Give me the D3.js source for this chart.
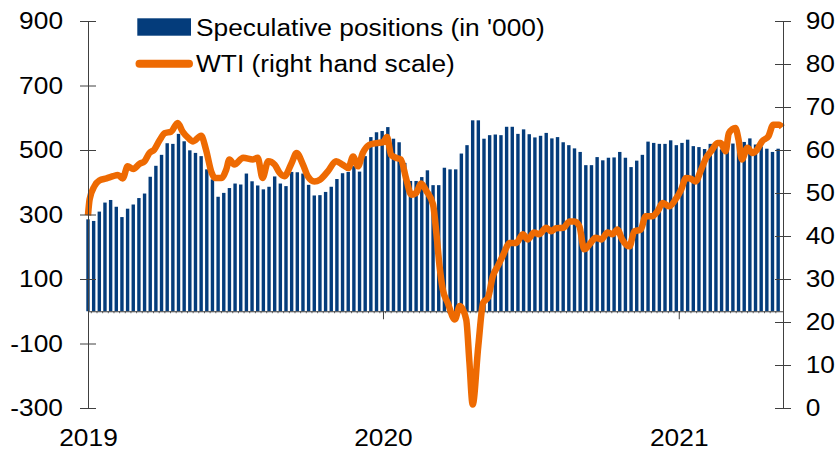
<!DOCTYPE html>
<html><head><meta charset="utf-8">
<script src="https://cdn.jsdelivr.net/npm/d3@7/dist/d3.min.js"></script>
<style>
body{margin:0;background:#fff}
svg{display:block}
text{font-family:"Liberation Sans",Arial,Helvetica,sans-serif;fill:#000}
</style>
</head><body>
<svg id="chart" width="836" height="450"></svg>
<script>
// ---- data ----
const firstWeek = "2019-01-01"; // weekly observations (Tuesdays)
const positions = [
  285,280,309,337,345,324,292,318,331,351,365,417,451,485,521,519,550,527,499,491,
  481,440,409,355,367,382,396,393,427,403,390,378,386,418,396,388,432,431,427,392,
  359,360,370,386,410,428,432,450,433,481,540,555,559,571,535,524,460,404,404,416,
  437,391,391,445,440,440,489,515,592,592,535,546,548,546,572,572,550,564,549,539,
  544,553,536,540,524,515,505,494,453,453,478,468,476,477,494,476,447,467,485,526,
  522,519,519,530,515,522,532,512,509,503,519,512,502,510,520,515,525,536,517,511,
  504,494,504
];
const wtiDates = [
  "2019-01-01","2019-01-03","2019-01-09","2019-01-15","2019-01-24","2019-02-01","2019-02-07","2019-02-13",
  "2019-02-19","2019-02-26","2019-03-06","2019-03-12","2019-03-18","2019-03-24","2019-03-31","2019-04-06",
  "2019-04-14","2019-04-22","2019-04-28","2019-05-05","2019-05-11","2019-05-21","2019-05-27","2019-06-03",
  "2019-06-07","2019-06-15","2019-06-21","2019-06-25","2019-07-01","2019-07-12","2019-07-24","2019-07-30",
  "2019-08-05","2019-08-12","2019-08-20","2019-08-26","2019-09-01","2019-09-10","2019-09-16","2019-09-24",
  "2019-09-30","2019-10-08","2019-10-15","2019-10-25","2019-11-04","2019-11-12","2019-11-19","2019-11-25",
  "2019-12-01","2019-12-07","2019-12-15","2019-12-24","2020-01-01","2020-01-06","2020-01-11","2020-01-17",
  "2020-01-23","2020-01-30","2020-02-05","2020-02-11","2020-02-17","2020-02-24","2020-03-03","2020-03-07",
  "2020-03-11","2020-03-15","2020-03-21","2020-03-30","2020-04-05","2020-04-13","2020-04-17","2020-04-21",
  "2020-04-28","2020-05-04","2020-05-10","2020-05-16","2020-05-22","2020-05-28","2020-06-06","2020-06-14",
  "2020-06-22","2020-06-28","2020-07-06","2020-07-12","2020-07-21","2020-07-27","2020-08-02","2020-08-11",
  "2020-08-19","2020-08-25","2020-08-31","2020-09-06","2020-09-14","2020-09-20","2020-09-27","2020-10-05",
  "2020-10-11","2020-10-17","2020-10-23","2020-11-01","2020-11-07","2020-11-15","2020-11-21","2020-11-29",
  "2020-12-06","2020-12-12","2020-12-20","2020-12-28","2021-01-04","2021-01-10","2021-01-16","2021-01-22",
  "2021-01-28","2021-02-04","2021-02-10","2021-02-18","2021-02-22","2021-02-28","2021-03-04","2021-03-12",
  "2021-03-16","2021-03-20","2021-03-27","2021-04-02","2021-04-08","2021-04-14","2021-04-22","2021-04-28",
  "2021-05-05","2021-05-09"
];
const wtiValues = [
  44.8,48.5,51.6,52.9,53.4,53.9,54.2,53.4,
  56.2,55.6,56.8,57.4,59.3,60.1,62.4,63.9,
  64.3,66.3,64.3,62.8,62.0,63.3,60.1,54.7,
  53.5,53.5,55.4,57.8,56.6,58.2,57.8,58.2,
  53.5,57.4,56.6,54.7,53.9,57.0,59.3,56.6,
  53.9,52.7,53.1,55.1,57.4,56.6,55.8,58.5,
  56.2,59.3,61.2,61.6,61.8,63.0,58.9,58.2,
  57.8,53.1,49.6,50.0,52.2,50.4,47.3,40.8,
  33.0,27.6,24.5,20.6,23.7,20.6,10.6,0.8,
  14.5,24.5,25.7,30.7,33.0,35.3,38.4,38.4,
  40.4,39.2,40.8,40.4,41.9,41.1,41.8,41.9,
  43.4,43.4,42.3,36.9,38.4,39.6,39.2,40.8,
  40.4,41.5,39.2,37.6,41.1,41.5,44.6,44.6,
  45.8,47.7,46.9,48.5,50.8,53.5,53.3,52.7,
  55.1,58.2,59.7,61.6,61.6,59.7,63.9,65.1,
  62.4,57.8,60.5,59.3,60.1,62.0,63.2,65.9,
  65.9,65.3
];
const leftTicks = [-300,-100,100,300,500,700,900];
const rightTicks = [0,10,20,30,40,50,60,70,80,90];
const yearTicks = ["2019-01-01","2020-01-01","2021-01-01"];
const yearLabels = ["2019","2020","2021"];
const legendLabels = ["Speculative positions (in '000)","WTI (right hand scale)"];
const xDomain = ["2019-01-01","2021-05-10"];

// ---- styling ----
const BLUE = "#043C7B", ORANGE = "#EE6A02", AXIS = "#404040";
const FS = 23.5, SX = 1.12;

const parse = d3.utcParse("%Y-%m-%d");
const svg = d3.select("#chart");

const x = d3.scaleUtc().domain(xDomain.map(parse)).range([88, 783]);
const yL = d3.scaleLinear().domain([-300, 900]).range([408, 21]);
const yR = d3.scaleLinear().domain([0, 90]).range([408, 21]);

const start = parse(firstWeek);
const barData = positions.map((v, i) => ({date: d3.utcDay.offset(start, 7 * i), v}));
const bw = 3.4;

// bars
svg.append("g").selectAll("rect").data(barData).join("rect")
  .attr("x", d => x(d.date) - bw / 2)
  .attr("width", bw)
  .attr("y", d => yL(Math.max(0, d.v)))
  .attr("height", d => Math.abs(yL(d.v) - yL(0)))
  .attr("fill", BLUE);

const y0 = yL(0);

// minor weekly ticks on the zero line
svg.append("g").attr("transform", `translate(0,${y0})`)
  .call(d3.axisBottom(x).tickValues(barData.slice(1).map(d => d3.utcHour.offset(d.date, -84))).tickSize(2).tickFormat(""))
  .call(g => g.select(".domain").remove())
  .call(g => g.selectAll("line").attr("stroke", AXIS).attr("stroke-width", 0.8));

// x axis (zero line, year ticks)
svg.append("g").attr("transform", `translate(0,${y0})`)
  .call(d3.axisBottom(x).tickValues(yearTicks.map(parse)).tickSize(8).tickSizeOuter(0)
    .tickFormat((d, i) => yearLabels[i]))
  .call(g => g.select(".domain").attr("stroke", AXIS).attr("d", `M88,0.5H783`))
  .call(g => g.selectAll("line").attr("stroke", AXIS))
  .call(g => g.selectAll("text")
    .attr("y", 446.5 - y0).attr("dy", 0).attr("x", 0)
    .attr("font-size", FS).attr("fill", "#000")
    .attr("transform", `scale(${SX},1)`));

// WTI line
const wti = wtiDates.map((d, i) => ({date: parse(d), v: wtiValues[i]}));
svg.append("path").datum(wti)
  .attr("fill", "none").attr("stroke", ORANGE).attr("stroke-width", 6.5)
  .attr("stroke-linejoin", "round").attr("stroke-linecap", "butt")
  .attr("d", d3.line().x(d => x(d.date)).y(d => yR(d.v)).curve(d3.curveMonotoneX));

// left axis
svg.append("g").attr("transform", "translate(88,0)")
  .call(d3.axisLeft(yL).tickValues(leftTicks).tickSize(8).tickSizeOuter(0).tickFormat(d => String(d)))
  .call(g => g.select(".domain").attr("stroke", AXIS))
  .call(g => g.selectAll(".tick line").attr("stroke", AXIS).attr("x1", 8).attr("x2", -8))
  .call(g => g.selectAll("text").attr("x", -25 / SX).attr("font-size", FS).attr("fill", "#000")
    .attr("transform", `scale(${SX},1)`));

// right axis
svg.append("g").attr("transform", "translate(783,0)")
  .call(d3.axisRight(yR).tickValues(rightTicks).tickSize(8).tickSizeOuter(0).tickFormat(d => String(d)))
  .call(g => g.select(".domain").attr("stroke", AXIS))
  .call(g => g.selectAll(".tick line").attr("stroke", AXIS).attr("x1", -8).attr("x2", 8))
  .call(g => g.selectAll("text").attr("x", 22.7 / SX).attr("font-size", FS).attr("fill", "#000")
    .attr("transform", `scale(${SX},1)`));

svg.selectAll("g").attr("font-family", null);

// legend
const lg = svg.append("g");
lg.append("rect").attr("x", 137.3).attr("y", 18.3).attr("width", 53.7).attr("height", 17.4).attr("fill", BLUE);
lg.append("line").attr("x1", 139.5).attr("x2", 189).attr("y1", 63.7).attr("y2", 63.7)
  .attr("stroke", ORANGE).attr("stroke-width", 8).attr("stroke-linecap", "round");
lg.selectAll("text").data(legendLabels).join("text")
  .attr("transform", (d, i) => `translate(196,${i === 0 ? 35.6 : 71.6}) scale(${SX},1)`)
  .attr("font-size", FS).text(d => d);
</script>
</body></html>
